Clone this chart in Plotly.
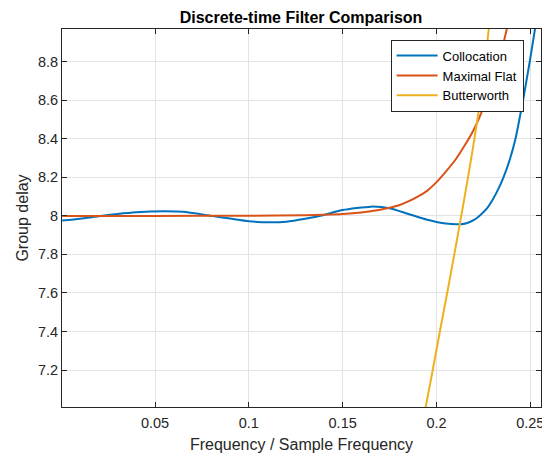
import plotly.graph_objects as go

# ---- data ----
coll_x = [0.0005, 0.01, 0.02, 0.03, 0.04, 0.055, 0.065, 0.08, 0.09, 0.10, 0.111, 0.12, 0.13, 0.14,
          0.15, 0.165, 0.175, 0.185, 0.195, 0.205, 0.2128, 0.216, 0.22, 0.224, 0.227, 0.23, 0.233,
          0.2357, 0.239, 0.2421, 0.2461, 0.2497, 0.2530]
coll_y = [7.976, 7.985, 7.998, 8.010, 8.019, 8.024, 8.021, 8.000, 7.986, 7.972, 7.967, 7.970, 7.985,
          8.005, 8.030, 8.048, 8.040, 8.010, 7.980, 7.960, 7.957, 7.962, 7.979, 8.01, 8.04, 8.085,
          8.14, 8.2, 8.29, 8.4, 8.6, 8.8, 9.0]

flat_x = [0.0005, 0.05, 0.10, 0.13, 0.14, 0.15, 0.16, 0.17, 0.175, 0.18, 0.185, 0.19, 0.195, 0.2,
          0.205, 0.21, 0.215, 0.22, 0.225, 0.23, 0.235, 0.2382]
flat_y = [8.0, 8.0, 8.0005, 8.003, 8.006, 8.01, 8.018, 8.032, 8.042, 8.055, 8.075, 8.10, 8.13, 8.175,
          8.23, 8.29, 8.365, 8.45, 8.56, 8.7, 8.87, 9.0]

butter_x = [0.1941, 0.1980, 0.2018, 0.2057, 0.2095, 0.2132, 0.2168, 0.2202, 0.2233, 0.2259, 0.2282]
butter_y = [7.0, 7.2, 7.4, 7.6, 7.8, 8.0, 8.2, 8.4, 8.6, 8.8, 9.0]

x_ticks = [0.05, 0.1, 0.15, 0.2, 0.25]
x_tick_labels = ["0.05", "0.1", "0.15", "0.2", "0.25"]
y_ticks = [7.2, 7.4, 7.6, 7.8, 8.0, 8.2, 8.4, 8.6, 8.8]
y_tick_labels = ["7.2", "7.4", "7.6", "7.8", "8", "8.2", "8.4", "8.6", "8.8"]

series = [
    ("Collocation", coll_x, coll_y, "#0072BD"),
    ("Maximal Flat", flat_x, flat_y, "#D95319"),
    ("Butterworth", butter_x, butter_y, "#EDB120"),
]

FONT = "Liberation Sans, Arial, sans-serif"

fig = go.Figure()
for name, xs, ys, col in series:
    fig.add_trace(go.Scatter(x=xs, y=ys, mode="lines", name=name,
                             line=dict(color=col, width=2, shape="spline", smoothing=0.6)))

axis_common = dict(
    showline=True, linecolor="#262626", linewidth=1, mirror="ticks",
    ticks="inside", ticklen=5, tickcolor="#262626", tickwidth=1,
    showgrid=True, gridcolor="#e3e3e3", gridwidth=1, zeroline=False,
    automargin=False,
    tickfont=dict(family=FONT, size=14.5, color="#262626"),
)

# page body has an 8px margin, so the figure is sized/offset to compensate
fig.update_layout(
    width=542, height=450,
    margin=dict(l=54, r=9, t=21, b=51),
    paper_bgcolor="white", plot_bgcolor="white",
    title=dict(text="<b>Discrete-time Filter Comparison</b>", x=0.5406, xanchor="center",
               y=0.98, yanchor="middle", automargin=False,
               font=dict(family=FONT, size=16, color="black")),
    xaxis=dict(range=[0.00043, 0.2557], tickvals=x_ticks, ticktext=x_tick_labels,
               ticklabelstandoff=3,
               title=dict(text="Frequency / Sample Frequency", standoff=8,
                          font=dict(family=FONT, size=16, color="#262626")),
               **axis_common),
    yaxis=dict(range=[7.008, 8.970], tickvals=y_ticks, ticktext=y_tick_labels,
               ticklabelstandoff=0,
               title=dict(text="Group delay", standoff=5,
                          font=dict(family=FONT, size=16, color="#262626")),
               **axis_common),
    legend=dict(x=0.686, y=0.972, xanchor="left", yanchor="top",
                bgcolor="white", bordercolor="#262626", borderwidth=1,
                font=dict(family=FONT, size=13, color="black"),
                itemwidth=41, tracegroupgap=0),
    showlegend=True,
)

fig.write_html("out.html")
